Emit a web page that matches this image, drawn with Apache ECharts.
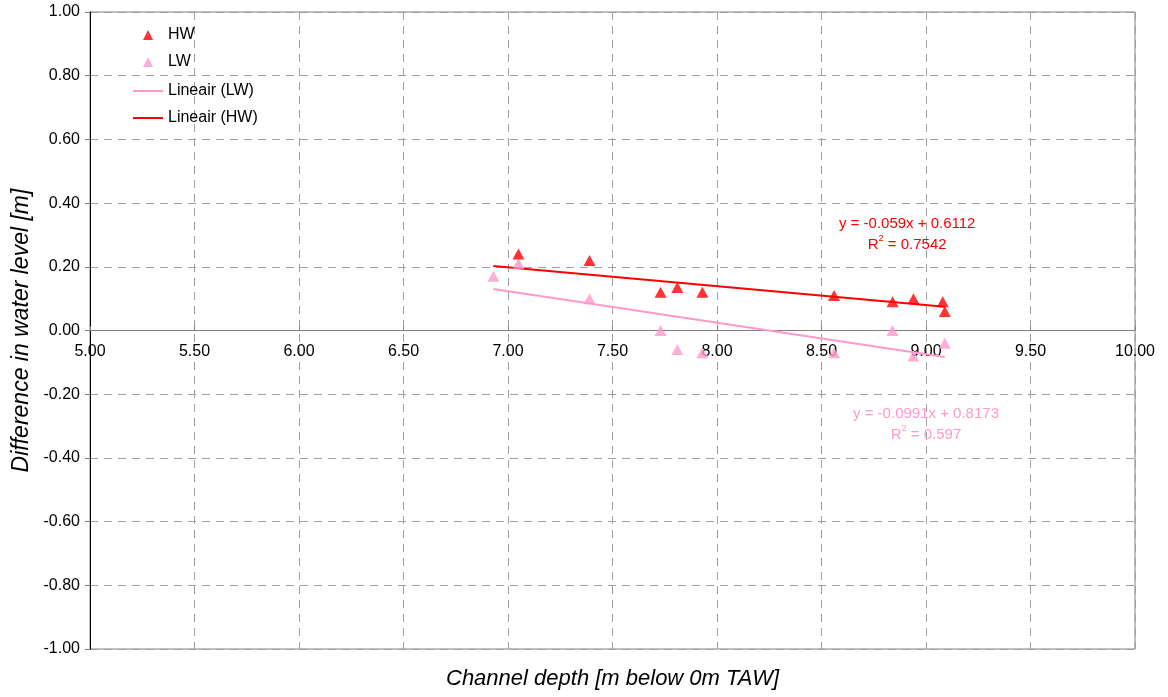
<!DOCTYPE html>
<html><head><meta charset="utf-8">
<script src="https://cdn.jsdelivr.net/npm/echarts@6/dist/echarts.min.js"></script>
<style>html,body{margin:0;padding:0;background:#fff}#c{width:1168px;height:697px}</style>
</head><body><div id="c"></div>
<script>
const hwX = [7.05, 7.39, 7.73, 7.81, 7.93, 8.56, 8.84, 8.94, 9.08, 9.09];
const hwY = [0.24, 0.22, 0.12, 0.135, 0.12, 0.11, 0.09, 0.10, 0.09, 0.06];
const lwX = [6.93, 7.05, 7.39, 7.73, 7.81, 7.93, 8.56, 8.84, 8.94, 9.09];
const lwY = [0.17, 0.21, 0.10, 0.00, -0.06, -0.07, -0.07, 0.00, -0.08, -0.04];
const hwFit = [-0.059, 0.6112];   // slope, intercept
const lwFit = [-0.0991, 0.8173];
const fitRange = [6.93, 9.09];
const hwFitText = ['y = -0.059x + 0.6112', '0.7542'];
const lwFitText = ['y = -0.0991x + 0.8173', '0.597'];

const RED = '#ff0000', PINK = '#ff99cc';
const font = 'Liberation Sans, Arial, sans-serif';
const pts = (xs, ys) => xs.map((x, i) => [x, ys[i]]);
const fit = f => fitRange.map(x => [x, f[0] * x + f[1]]);
const dash = { color: '#a0a0a0', type: [8, 6] };
const GRID = { left: 90, right: 33, top: 12, bottom: 48 };

const chart = echarts.init(document.getElementById('c'));
chart.setOption({
  animation: false,
  textStyle: { fontFamily: font },
  grid: Object.assign({ show: true, borderColor: '#808080', borderWidth: 1, containLabel: false, outerBoundsMode: 'none' }, GRID),
  legend: [
    { orient: 'vertical', left: 138, top: 22, itemGap: 11, itemWidth: 10, itemHeight: 10,
      textStyle: { fontSize: 16, color: '#000', fontFamily: font, padding: [0, 0, 0, 10] },
      data: [{ name: 'HW', icon: 'triangle' }, { name: 'LW', icon: 'triangle' }] },
    { orient: 'vertical', left: 128, top: 78, itemGap: 11, itemWidth: 30, itemHeight: 2,
      textStyle: { fontSize: 16, color: '#000', fontFamily: font },
      data: [{ name: 'Lineair (LW)', icon: 'rect' }, { name: 'Lineair (HW)', icon: 'rect' }] }
  ],
  xAxis: {
    type: 'value', min: 5, max: 10, interval: 0.5,
    name: 'Channel depth [m below 0m TAW]', nameLocation: 'middle', nameGap: 337,
    nameTextStyle: { fontSize: 22, fontStyle: 'italic', color: '#000' },
    axisLine: { onZero: false, lineStyle: { color: '#808080' } },
    axisTick: { show: true, inside: true, length: 4, lineStyle: { color: '#808080' } },
    axisLabel: { formatter: v => v.toFixed(2), fontSize: 16, color: '#000', margin: 13 },
    splitLine: { show: true, lineStyle: dash }
  },
  yAxis: {
    type: 'value', min: -1, max: 1, interval: 0.2,
    name: 'Difference in water level [m]', nameLocation: 'middle', nameGap: 56,
    nameTextStyle: { fontSize: 23, fontStyle: 'italic', color: '#000' },
    axisLine: { show: true, onZero: false, lineStyle: { color: '#000' } },
    axisTick: { show: true, length: 5, lineStyle: { color: '#808080' } },
    axisLabel: { formatter: v => v.toFixed(2), fontSize: 16, color: '#000', margin: 10 },
    splitLine: { show: true, lineStyle: dash }
  },
  series: [
    { name: 'Lineair (LW)', type: 'line', data: fit(lwFit), symbol: 'none', lineStyle: { color: PINK, width: 2 }, itemStyle: { color: PINK }, z: 2 },
    { name: 'Lineair (HW)', type: 'line', data: fit(hwFit), symbol: 'none', lineStyle: { color: RED, width: 2 }, itemStyle: { color: RED }, z: 2 },
    { name: 'LW', type: 'scatter', data: pts(lwX, lwY), symbol: 'triangle', symbolSize: [12, 11], itemStyle: { color: PINK }, z: 3 },
    { name: 'HW', type: 'scatter', data: pts(hwX, hwY), symbol: 'triangle', symbolSize: [12, 11], itemStyle: { color: RED }, z: 4 }
  ]
});

// move the x axis (line, ticks, labels) up to y = 0
const zeroY = chart.convertToPixel({ yAxisIndex: 0 }, 0);
const bottomY = 697 - GRID.bottom;
chart.setOption({ xAxis: { offset: -(bottomY - zeroY) } });

function addLabels() {
  const mk = (xy, lines, color) => {
    const p = chart.convertToPixel({ gridIndex: 0 }, xy);
    return {
      type: 'text', x: p[0], y: p[1], z: 10,
      style: {
        text: lines[0] + '\n{n|R}{s|2}{n| = ' + lines[1] + '}',
        fill: color, font: '15px ' + font, align: 'center', verticalAlign: 'middle', lineHeight: 21,
        rich: { n: { fontSize: 15, fill: color, fontFamily: font }, s: { fontSize: 9, fill: color, verticalAlign: 'top', fontFamily: font, padding: [0, 0, 6, 0] } }
      }
    };
  };
  chart.setOption({ graphic: [
    mk([8.91, 0.303], hwFitText, RED),
    mk([9.00, -0.295], lwFitText, PINK)
  ]});
}
addLabels();
</script></body></html>
